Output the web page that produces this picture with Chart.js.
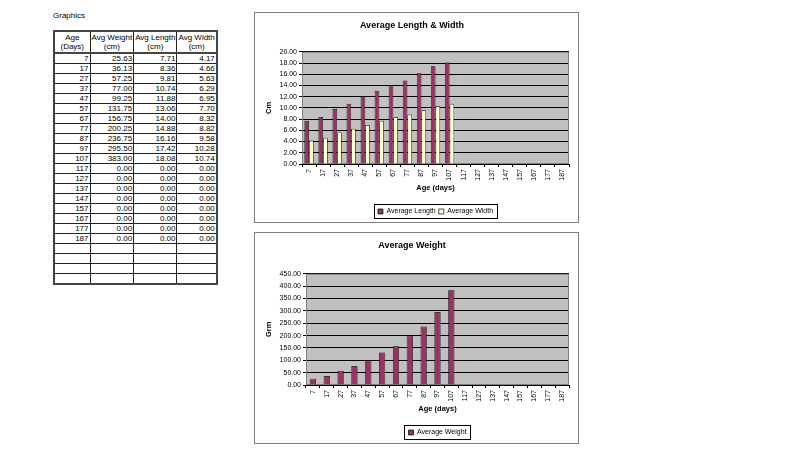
<!DOCTYPE html>
<html>
<head>
<meta charset="utf-8">
<script src="https://cdn.jsdelivr.net/npm/chart.js@4.4.1/dist/chart.umd.min.js"></script>
<style>
    body { margin: 0; width: 800px; height: 450px; background: #fff; position: relative; overflow: hidden;
           font-family: "Liberation Sans", Arial, sans-serif; }
    #caption { position: absolute; left: 53px; top: 11px; font-size: 8px; color: #000; }
    #dataTable { position: absolute; left: 53px; top: 30px; border-collapse: collapse; border: 2px solid #444;
                 font-size: 8px; color: #000; table-layout: fixed; }
    #dataTable th, #dataTable td { border: 1px solid #222; padding: 0 1px; overflow: hidden; white-space: nowrap; }
    #dataTable th { font-weight: normal; text-align: center; line-height: 9px; height: 20px; border-bottom: 2px solid #444; }
    #dataTable td { text-align: right; height: 9px; line-height: 9px; }
    .box { position: absolute; left: 254px; width: 323px; border: 1px solid #808080; background: #fff; }
    .box canvas { display: block; }
</style>
</head>
<body>
<div id="caption">Graphics</div>
<table id="dataTable">
    <colgroup><col style="width:36px"><col style="width:42px"><col style="width:42px"><col style="width:38px"></colgroup>
    <thead><tr id="headRow"></tr></thead>
    <tbody id="tableBody"></tbody>
</table>
<div class="box" style="top:12px;height:209px"><canvas id="sizeChart" width="323" height="209"></canvas></div>
<div class="box" style="top:232px;height:210px"><canvas id="weightChart" width="323" height="210"></canvas></div>

<script>
const ages = [7, 17, 27, 37, 47, 57, 67, 77, 87, 97, 107, 117, 127, 137, 147, 157, 167, 177, 187];
const avgWeight = [25.63, 36.13, 57.25, 77.00, 99.25, 131.75, 156.75, 200.25, 236.75, 295.50, 383.00, 0, 0, 0, 0, 0, 0, 0, 0];
const avgLength = [7.71, 8.36, 9.81, 10.74, 11.88, 13.06, 14.00, 14.88, 16.16, 17.42, 18.08, 0, 0, 0, 0, 0, 0, 0, 0];
const avgWidth = [4.17, 4.66, 5.63, 6.29, 6.95, 7.70, 8.32, 8.82, 9.58, 10.28, 10.74, 0, 0, 0, 0, 0, 0, 0, 0];
const tableHeaders = ['Age<br>(Days)', 'Avg Weight<br>(cm)', 'Avg Length<br>(cm)', 'Avg Width<br>(cm)'];
const emptyRows = 4;

// table
document.getElementById('headRow').innerHTML = tableHeaders.map(h => `<th>${h}</th>`).join('');
let rows = '';
ages.forEach((age, i) => {
    rows += `<tr><td>${age}</td><td>${avgWeight[i].toFixed(2)}</td><td>${avgLength[i].toFixed(2)}</td><td>${avgWidth[i].toFixed(2)}</td></tr>`;
});
for (let i = 0; i < emptyRows; i++) rows += '<tr><td></td><td></td><td></td><td></td></tr>';
document.getElementById('tableBody').innerHTML = rows;

Chart.defaults.font.family = '"Liberation Sans", Arial, sans-serif';
Chart.defaults.color = '#000';
Chart.defaults.animation = false;

// grey plot area, its border, legend centred under the plot with a frame round it
const excelLook = {
    id: 'excelLook',
    afterLayout(chart) {
        // legend plugin re-aligns its hit boxes after this, using the new left/right
        const lg = chart.legend;
        lg.left = chart.chartArea.left;
        lg.right = chart.chartArea.right;
    },
    beforeDraw(chart) {
        const { ctx, chartArea: a } = chart;
        ctx.save();
        ctx.fillStyle = '#C0C0C0';
        ctx.fillRect(a.left, a.top, a.width, a.height);
        ctx.restore();
    },
    beforeDatasetsDraw(chart) {
        const { ctx, chartArea: a } = chart;
        ctx.save();
        ctx.strokeStyle = '#808080';
        ctx.lineWidth = 1;
        ctx.strokeRect(a.left + 0.5, a.top + 0.5, a.width - 1, a.height - 1);
        ctx.restore();
    },
    afterDraw(chart) {
        const boxes = chart.legend.legendHitBoxes;
        if (!boxes.length) return;
        const left = Math.min(...boxes.map(b => b.left)) - 4;
        const right = Math.max(...boxes.map(b => b.left + b.width)) + 4;
        const top = Math.min(...boxes.map(b => b.top)) - 4;
        const bottom = Math.max(...boxes.map(b => b.top + b.height)) + 3;
        const { ctx } = chart;
        ctx.save();
        ctx.strokeStyle = '#000';
        ctx.lineWidth = 1;
        ctx.strokeRect(Math.round(left) + 0.5, Math.round(top) + 0.5, Math.round(right - left), Math.round(bottom - top));
        ctx.restore();
    }
};

function makeChart(id, title, yTitle, datasets, yMax, yStep, yWidth, titleGap) {
    return new Chart(document.getElementById(id), {
        type: 'bar',
        data: { labels: ages.map(String), datasets: datasets },
        options: {
            responsive: false,
            layout: { padding: { left: 0, right: 9, top: 0, bottom: -3 } },
            plugins: {
                title: { display: true, text: title, font: { size: 9, weight: 'bold' }, padding: { top: 7, bottom: titleGap } },
                legend: {
                    position: 'bottom',
                    labels: { boxWidth: 5, boxHeight: 5, font: { size: 7 }, padding: 3 }
                },
                tooltip: { enabled: false }
            },
            scales: {
                x: {
                    offset: true,
                    grid: { display: true, offset: true, drawOnChartArea: false, color: '#000', tickLength: 3 },
                    border: { color: '#000' },
                    ticks: { font: { size: 7 }, maxRotation: 90, minRotation: 90, padding: 2, autoSkip: false },
                    title: { display: true, text: 'Age (days)', font: { size: 7.5, weight: 'bold' }, padding: { top: 13, bottom: 13 } },
                    afterFit: s => { s.height = 41; }
                },
                y: {
                    min: 0, max: yMax,
                    grid: { color: '#000', tickLength: 3 },
                    border: { color: '#000' },
                    ticks: { stepSize: yStep, autoSkip: false, font: { size: 7 }, padding: 2, callback: v => v.toFixed(2) },
                    title: { display: true, text: yTitle, font: { size: 7.5, weight: 'bold' }, padding: { top: 9, bottom: 9 } },
                    afterFit: s => { s.width = yWidth; }
                }
            }
        },
        plugins: [excelLook]
    });
}

makeChart('sizeChart', 'Average Length & Width', 'Cm', [
    { label: 'Average Length', data: avgLength, backgroundColor: '#993366', borderColor: '#000', borderWidth: 0.7,
      categoryPercentage: 0.66, barPercentage: 1.0 },
    { label: 'Average Width', data: avgWidth, backgroundColor: '#FFFFCC', borderColor: '#000', borderWidth: 0.7,
      categoryPercentage: 0.66, barPercentage: 1.0 }
], 20, 2, 47, 21);

makeChart('weightChart', 'Average Weight', 'Grm', [
    { label: 'Average Weight', data: avgWeight, backgroundColor: '#993366', borderColor: '#000', borderWidth: 0.7,
      categoryPercentage: 0.45, barPercentage: 1.0 }
], 450, 50, 51, 23);
</script>
</body>
</html>
